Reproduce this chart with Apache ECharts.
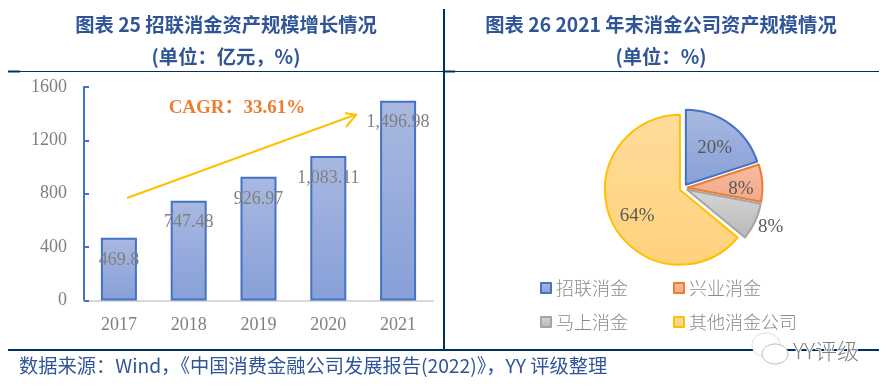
<!DOCTYPE html>
<html><head><meta charset="utf-8">
<style>html,body{margin:0;padding:0;background:#fff}#c{width:889px;height:389px}</style>
<script src="https://cdn.jsdelivr.net/npm/echarts@6/dist/echarts.min.js"></script>
</head><body><div id="c"></div>
<script>
const years = ['2017','2018','2019','2020','2021'];
const assets = [469.8,747.48,926.97,1083.11,1496.98];
const yTicks = {min:0,max:1600,interval:400};
const shareNames = ['招联消金','兴业消金','马上消金','其他消金公司'];
const shareValues = [20,8,8,64];
const titleLeft = ['图表 25 招联消金资产规模增长情况','(单位：亿元，%)'];
const titleRight = ['图表 26 2021 年末消金公司资产规模情况','(单位：%)'];
const cagrText = 'CAGR：33.61%';
const sourceText = '数据来源：Wind，《中国消费金融公司发展报告(2022)》，YY 评级整理';
const watermark = 'YY评级';

const sans = '"Noto Sans CJK SC","Noto Sans",sans-serif';
const serif = '"Liberation Serif","Noto Sans CJK SC",serif';
const navy = '#2F5597', rule = '#003060';
const grad = (a,b)=>new echarts.graphic.LinearGradient(0,0,0,1,[{offset:0,color:a},{offset:1,color:b}]);
const pieFill = [['#A9B8E0','#87A0D8'],['#F7BDA2','#F4A887'],['#D6D6D6','#B8B8B8'],['#FFDC9C','#FFD27C']];
const pieEdge = ['#4472C4','#ED7D31','#A5A5A5','#FFC000'];
const pieLabelShift = [[5,-4],[13,4],[47,20],[-6,9]];

const text=(s,x,y,size,weight,color,family,align)=>({type:'text',silent:true,z:20,x,y,style:{text:s,fill:color,font:`${weight} ${size}px ${family}`,align:align||'center',verticalAlign:'middle'}});
const line=(x1,y1,x2,y2,w,c,z)=>({type:'line',silent:true,z:z||15,shape:{x1,y1,x2,y2},style:{stroke:c,lineWidth:w}});

const graphic=[
 text(titleLeft[0],226,25,19.3,'bold',navy,sans),
 text(titleLeft[1],226,57,19.3,'bold',navy,sans),
 text(titleRight[0],661,25,19.3,'bold',navy,sans),
 text(titleRight[1],661,57,19.3,'bold',navy,sans),
 line(8,71.5,443,71.5,1,rule), line(8,71.5,20,71.5,2,rule),
 line(445,71.5,879,71.5,1,rule), line(445,71.5,455,71.5,2,rule),
 line(444,9,444,350,2,rule),
 line(8,350,879,350,2,rule),
 text(sourceText,19,366,19.25,'normal',navy,sans,'left'),
 text(cagrText,237,108,19,'bold','#ED7D31',serif),
 line(127,198,356,114.5,2,'#FFC000'),
 {type:'polyline',silent:true,z:16,shape:{points:[[345,113],[356,115],[346,127]]},style:{stroke:'#FFC000',lineWidth:2,fill:'none'}},
 {type:'ellipse',silent:true,z:17,shape:{cx:766,cy:345,rx:14,ry:12},style:{fill:'#fff',stroke:'#dcdcdc',lineWidth:1}},
 {type:'ellipse',silent:true,z:17,shape:{cx:775,cy:354,rx:13,ry:10},style:{fill:'#fff',stroke:'#bdbdbd',lineWidth:1}},
 {type:'text',silent:true,z:18,x:793,y:351,style:{text:watermark,fill:'#808080',stroke:'#fff',lineWidth:1.5,font:`300 22px ${sans}`,align:'left',verticalAlign:'middle'}}
];

const legendCommon={icon:'rect',itemWidth:10,itemHeight:10,orient:'vertical',itemGap:16,selectedMode:false,
  textStyle:{fontFamily:sans,fontSize:18,fontWeight:300,color:'#8a8a8a'}};

const chart=echarts.init(document.getElementById('c'),null,{renderer:'canvas'});
chart.setOption({
 animation:false,backgroundColor:'#fff',
 grid:{left:84,right:456,top:87,bottom:88.5,containLabel:false},
 xAxis:{type:'category',data:years,
   axisLine:{show:true,lineStyle:{color:'#D9D9D9',width:2}},axisTick:{show:false},
   axisLabel:{fontFamily:serif,fontSize:18,color:'#7f7f7f',margin:16}},
 yAxis:{type:'value',min:yTicks.min,max:yTicks.max,interval:yTicks.interval,
   axisLine:{show:true,lineStyle:{color:'#4472C4',width:2}},
   axisTick:{show:true,inside:true,length:5,lineStyle:{color:'#4472C4',width:2}},
   splitLine:{show:false},
   axisLabel:{fontFamily:serif,fontSize:18,color:'#7f7f7f',margin:17,formatter:v=>String(v)}},
 legend:[
  Object.assign({},legendCommon,{left:535,top:274,data:[shareNames[0],shareNames[2]]}),
  Object.assign({},legendCommon,{left:668,top:274,data:[shareNames[1],shareNames[3]]})
 ],
 series:[
  {type:'bar',data:assets,barWidth:36,z:5,
   itemStyle:{color:grad('#A9B8E0','#87A0D8'),borderColor:'#4472C4',borderWidth:2},
   label:{show:true,position:'insideTop',distance:13,fontFamily:serif,fontSize:18,color:'#808080',
     formatter:p=>p.value.toLocaleString('en-US',{maximumFractionDigits:2})}},
  {type:'pie',center:[683.5,188],radius:[0,75],startAngle:90,clockwise:true,
   selectedMode:'multiple',selectedOffset:4,
   data:shareNames.map((n,i)=>({name:n,value:shareValues[i],selected:true,
     itemStyle:{color:grad(pieFill[i][0],pieFill[i][1]),borderColor:pieEdge[i],borderWidth:2}})),
   label:{show:true,position:'inside',formatter:'{c}%',fontFamily:serif,fontSize:19,color:'#595959'},
   labelLine:{show:false},
   labelLayout:p=>({dx:pieLabelShift[p.dataIndex][0],dy:pieLabelShift[p.dataIndex][1]}),
   emphasis:{disabled:true}}
 ],
 graphic
});
</script></body></html>
